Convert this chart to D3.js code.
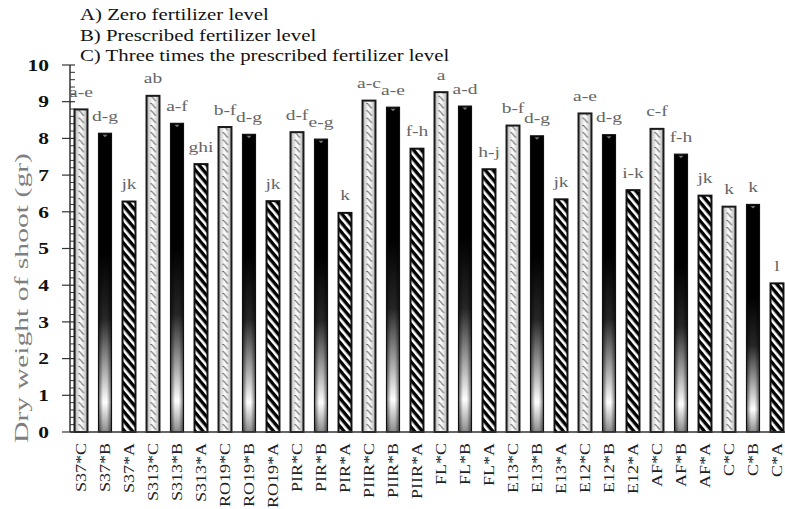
<!DOCTYPE html>
<html><head><meta charset="utf-8">
<script src="https://cdn.jsdelivr.net/npm/d3@7"></script>
<style>
html,body{margin:0;padding:0;background:#fff;}
svg{display:block;font-family:"Liberation Serif","Times New Roman",serif;}
</style></head>
<body><svg id="c" width="785" height="509"></svg>
<script>
const categories = ["S37*C","S37*B","S37*A","S313*C","S313*B","S313*A","RO19*C","RO19*B","RO19*A",
  "PIR*C","PIR*B","PIR*A","PIIR*C","PIIR*B","PIIR*A","FL*C","FL*B","FL*A",
  "E13*C","E13*B","E13*A","E12*C","E12*B","E12*A","AF*C","AF*B","AF*A","C*C","C*B","C*A"];
const values = [8.79,8.14,6.28, 9.16,8.41,7.30, 8.31,8.11,6.29,
  8.17,7.98,5.97, 9.03,8.85,7.72, 9.26,8.88,7.16,
  8.35,8.07,6.34, 8.68,8.10,6.59, 8.26,7.57,6.44, 6.14,6.20,4.05];
const letters = ["a-e","d-g","jk","ab","a-f","ghi","b-f","d-g","jk",
  "d-f","e-g","k","a-c","a-e","f-h","a","a-d","h-j",
  "b-f","d-g","jk","a-e","d-g","i-k","c-f","f-h","jk","k","k","l"];
const legendLines = ["A) Zero fertilizer level","B) Prescribed fertilizer level","C) Three times the prescribed fertilizer level"];
const yTickValues = [0,1,2,3,4,5,6,7,8,9,10];
const yTitle = "Dry weight of shoot (gr)";

const svg = d3.select("#c");
const x = d3.scaleBand().domain(categories).range([69, 789]).paddingInner(0.46).paddingOuter(0.23);
const y = d3.scaleLinear().domain([0, 10]).range([432, 65]);
const bw = x.bandwidth();
const level = c => c.split("*")[1];

function stretch(k){
  return function(){
    const L = this.getComputedTextLength();
    this.setAttribute("textLength", L * k);
    this.setAttribute("lengthAdjust", "spacingAndGlyphs");
  };
}

// defs
const defs = svg.append("defs");
const gB = defs.append("linearGradient").attr("id","gradB").attr("x1",0).attr("y1",0).attr("x2",0).attr("y2",1);
[[0,"#000"],[0.4,"#000"],[0.62,"#262626"],[0.8,"#b0b0b0"],[0.9,"#ffffff"],[1,"#8a8a8a"]]
  .forEach(([o,c]) => gB.append("stop").attr("offset",o).attr("stop-color",c));
const gE = defs.append("linearGradient").attr("id","gradEdge").attr("x1",0).attr("y1",0).attr("x2",1).attr("y2",0);
[[0,0.55],[0.35,0],[0.65,0],[1,0.55]].forEach(([o,a]) => gE.append("stop").attr("offset",o).attr("stop-color","#000").attr("stop-opacity",a));
const gC = defs.append("linearGradient").attr("id","gradC").attr("x1",0).attr("y1",0).attr("x2",1).attr("y2",0);
[[0,"#a8a8a8"],[0.25,"#dcdcdc"],[0.5,"#ffffff"],[0.75,"#dcdcdc"],[1,"#a8a8a8"]]
  .forEach(([o,c]) => gC.append("stop").attr("offset",o).attr("stop-color",c));
const pC = defs.append("pattern").attr("id","patC").attr("patternUnits","userSpaceOnUse")
  .attr("x", x(categories[0])).attr("y", 0).attr("width", x.step()).attr("height", 7.3);
pC.append("rect").attr("x",0).attr("y",0).attr("width",bw).attr("height",7.3).attr("fill","url(#gradC)");
pC.append("path").attr("d",`M${bw/2-2.5},1.2 L${bw/2-1},1.6 L${bw/2+2},5.6 L${bw/2+3},5.8`)
  .attr("fill","none").attr("stroke","#2a2a2a").attr("stroke-width",0.9);
const pA = defs.append("pattern").attr("id","patA").attr("patternUnits","userSpaceOnUse")
  .attr("width",6).attr("height",6).attr("patternTransform","rotate(-40)");
pA.append("rect").attr("width",6).attr("height",6).attr("fill","#000");
pA.append("rect").attr("x",0).attr("y",0).attr("width",2.6).attr("height",6).attr("fill","#fff");

// legend
svg.append("g").selectAll("text").data(legendLines).join("text")
  .attr("x", 80).attr("y", (d,i) => 20 + i * 20.5)
  .attr("font-size", 16).attr("fill", "#111").text(d => d)
  .each(stretch(1.3));

// y axis
const ax = svg.append("g");
ax.append("line").attr("x1",70).attr("x2",70).attr("y1",y(0)).attr("y2",y(10)).attr("stroke","#333").attr("stroke-width",1.5);
const minor = d3.range(0, 50).map(i => i * 0.2).filter(v => Math.abs(v - Math.round(v)) > 1e-6);
ax.selectAll(".mn").data(minor).join("line")
  .attr("x1",70).attr("x2",75).attr("y1",d=>y(d)).attr("y2",d=>y(d)).attr("stroke","#333").attr("stroke-width",1);
ax.selectAll(".mj").data(yTickValues).join("line")
  .attr("x1",62).attr("x2",75).attr("y1",d=>y(d)).attr("y2",d=>y(d)).attr("stroke","#333").attr("stroke-width",1.2);
ax.selectAll("text").data(yTickValues).join("text")
  .attr("x",49).attr("y",d=>y(d)).attr("dy","0.35em").attr("text-anchor","end")
  .attr("font-size",16.5).attr("font-weight","bold").attr("fill","#111").text(d=>d)
  .each(stretch(1.3));

// y title
svg.append("text").attr("transform","translate(28,298) rotate(-90)").attr("text-anchor","middle")
  .attr("font-size",19).attr("fill","#7f7f7f").text(yTitle)
  .attr("textLength",290).attr("lengthAdjust","spacingAndGlyphs");

// bars
const bars = svg.append("g");
categories.forEach((c,i) => {
  const lv = level(c), x0 = x(c), y0 = y(values[i]), h = y(0) - y(values[i]);
  if (lv === "B") {
    bars.append("rect").attr("x",x0).attr("y",y0).attr("width",bw).attr("height",h).attr("fill","url(#gradB)");
    bars.append("rect").attr("x",x0).attr("y",y0).attr("width",bw).attr("height",h).attr("fill","url(#gradEdge)")
      .attr("stroke","#111").attr("stroke-width",1.2);
    bars.append("path").attr("d",`M${x0+bw/2-2.5},${y0+1.5} L${x0+bw/2+2.5},${y0+1.5} L${x0+bw/2},${y0+4} Z`).attr("fill","#777");
  } else if (lv === "A") {
    bars.append("rect").attr("x",x0).attr("y",y0).attr("width",bw).attr("height",h)
      .attr("fill","url(#patA)").attr("stroke","#111").attr("stroke-width",2);
  } else {
    bars.append("rect").attr("x",x0).attr("y",y0).attr("width",bw).attr("height",h)
      .attr("fill","url(#patC)").attr("stroke","#1a1a1a").attr("stroke-width",2);
  }
});

// x axis line
svg.append("line").attr("x1",70).attr("x2",785).attr("y1",y(0)).attr("y2",y(0)).attr("stroke","#333").attr("stroke-width",1.5);

// letters
svg.append("g").selectAll("text").data(categories).join("text")
  .attr("x", d => x(d) + bw/2).attr("y", (d,i) => y(values[i]) - 12.5)
  .attr("text-anchor","middle").attr("font-size",15).attr("fill","#666")
  .text((d,i) => letters[i]).each(stretch(1.3));

// x labels
svg.append("g").selectAll("text").data(categories).join("text")
  .attr("transform", d => `translate(${x(d) + bw/2},443) rotate(-90)`)
  .attr("dy","0.35em").attr("text-anchor","end").attr("font-size",15).attr("fill","#222")
  .text(d => d).each(stretch(1.2));
</script></body></html>
